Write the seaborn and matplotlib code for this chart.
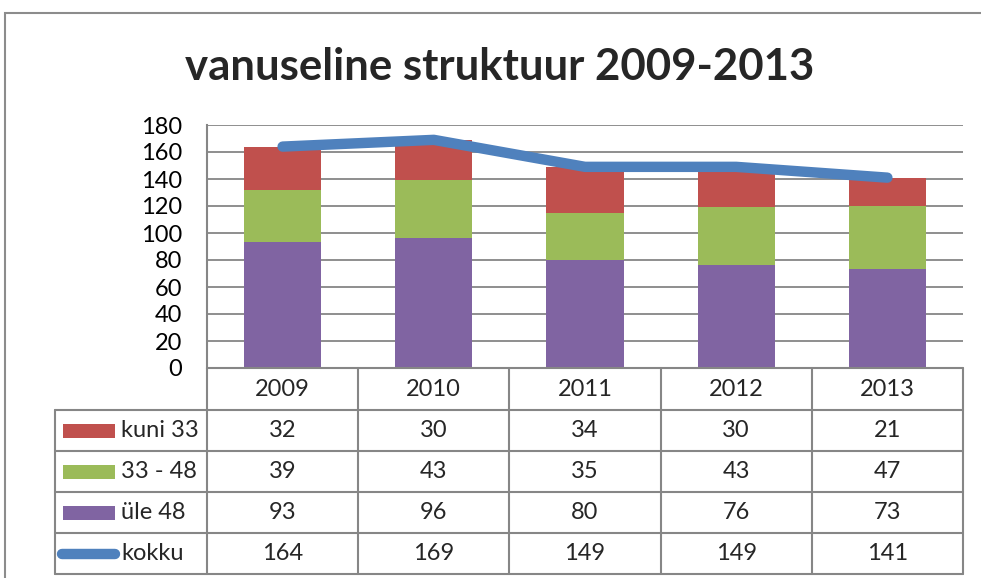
import matplotlib
matplotlib.use("Agg")
import matplotlib.pyplot as plt
import seaborn as sns
import pandas as pd
from matplotlib.patches import Rectangle
from matplotlib.lines import Line2D

years = ["2009", "2010", "2011", "2012", "2013"]
kuni33 = [32, 30, 34, 30, 21]
v33_48 = [39, 43, 35, 43, 47]
yle48 = [93, 96, 80, 76, 73]
kokku = [164, 169, 149, 149, 141]
series_names = ["kuni 33", "33 - 48", "üle 48", "kokku"]
yticks = [0, 20, 40, 60, 80, 100, 120, 140, 160, 180]
title = "vanuseline struktuur 2009-2013"

RED = "#C0504D"
GREEN = "#9BBB59"
PURPLE = "#8064A2"
BLUE = "#4F81BD"
GRID = "#868686"

sns.set_theme(style="white")
plt.rcParams["font.family"] = ["Lato", "DejaVu Sans"]

W, H = 981, 578
fig = plt.figure(figsize=(W / 100, H / 100), dpi=100)

def fx(x):
    return x / W

def fy(y):
    return 1 - y / H

FS = 17

# outer chart border
fig.add_artist(Rectangle((fx(5), fy(600)), fx(1000), fy(13) - fy(600),
                         transform=fig.transFigure, fill=False,
                         edgecolor="#8c8c8c", lw=1.5))

L, R, T, B = 207, 963, 125, 368
ax = fig.add_axes([fx(L), fy(B), fx(R) - fx(L), fy(T) - fy(B)])

df = pd.DataFrame({"year": years, "yle48": yle48, "v33_48": v33_48, "kuni33": kuni33})
bottom2 = [a for a in yle48]
bottom3 = [a + b for a, b in zip(yle48, v33_48)]
sns.barplot(data=df, x="year", y="yle48", color=PURPLE, width=0.51, ax=ax,
            saturation=1, edgecolor="none", zorder=2)
sns.barplot(data=df, x="year", y="v33_48", color=GREEN, width=0.51, ax=ax,
            saturation=1, edgecolor="none", bottom=bottom2, zorder=2)
sns.barplot(data=df, x="year", y="kuni33", color=RED, width=0.51, ax=ax,
            saturation=1, edgecolor="none", bottom=bottom3, zorder=2)
sns.lineplot(x=list(range(len(years))), y=kokku, ax=ax, color=BLUE, lw=7.5,
             solid_capstyle="round", zorder=3)

ax.set_xlim(-0.5, len(years) - 0.5)
ax.set_ylim(0, 180)
ax.set_yticks(yticks)
ax.set_yticklabels([str(t) for t in yticks], fontsize=FS)
ax.set_xticks([])
ax.set_xlabel("")
ax.set_ylabel("")
ax.yaxis.grid(True, color=GRID, lw=1.3, zorder=0)
ax.set_axisbelow(True)
for s in ["top", "right", "bottom"]:
    ax.spines[s].set_visible(False)
ax.spines["left"].set_color(GRID)
ax.spines["left"].set_linewidth(1.5)
ax.tick_params(axis="y", left=False, length=0, pad=18, labelcolor="black")

# data table
rows_y = [368, 410, 451, 492, 533, 574]
col_w = (R - L) / len(years)
col_x = [L + i * col_w for i in range(len(years) + 1)]
LBL_L = 55
lc = dict(color=GRID, lw=1.5, transform=fig.transFigure)

fig.add_artist(Line2D([fx(L), fx(R)], [fy(rows_y[0]), fy(rows_y[0])], **lc))
for y in rows_y[1:]:
    fig.add_artist(Line2D([fx(LBL_L), fx(R)], [fy(y), fy(y)], **lc))
for x in col_x:
    fig.add_artist(Line2D([fx(x), fx(x)], [fy(rows_y[0]), fy(rows_y[-1])], **lc))
fig.add_artist(Line2D([fx(LBL_L), fx(LBL_L)], [fy(rows_y[1]), fy(rows_y[-1])], **lc))

for i, yr in enumerate(years):
    fig.text(fx(col_x[i] + col_w / 2), fy((rows_y[0] + rows_y[1]) / 2), yr,
             ha="center", va="center", fontsize=FS)

table_vals = [kuni33, v33_48, yle48, kokku]
colors = [RED, GREEN, PURPLE, BLUE]
for r, (name, vals, c) in enumerate(zip(series_names, table_vals, colors)):
    yc = (rows_y[r + 1] + rows_y[r + 2]) / 2
    for i, v in enumerate(vals):
        fig.text(fx(col_x[i] + col_w / 2), fy(yc), str(v), ha="center",
                 va="center", fontsize=FS)
    fig.text(fx(121), fy(yc), name, ha="left", va="center", fontsize=FS)
    if r < 3:
        fig.add_artist(Rectangle((fx(63), fy(yc + 7)), fx(52), fy(yc - 7) - fy(yc + 7),
                                 transform=fig.transFigure, color=c, lw=0))
    else:
        fig.add_artist(Line2D([fx(62), fx(115)], [fy(yc), fy(yc)], color=c, lw=7.5,
                              solid_capstyle="round", transform=fig.transFigure))

fig.text(fx(500), fy(67), title, ha="center", va="center", fontsize=31.5,
         fontweight="bold")

fig.savefig("out.png", dpi=100)
